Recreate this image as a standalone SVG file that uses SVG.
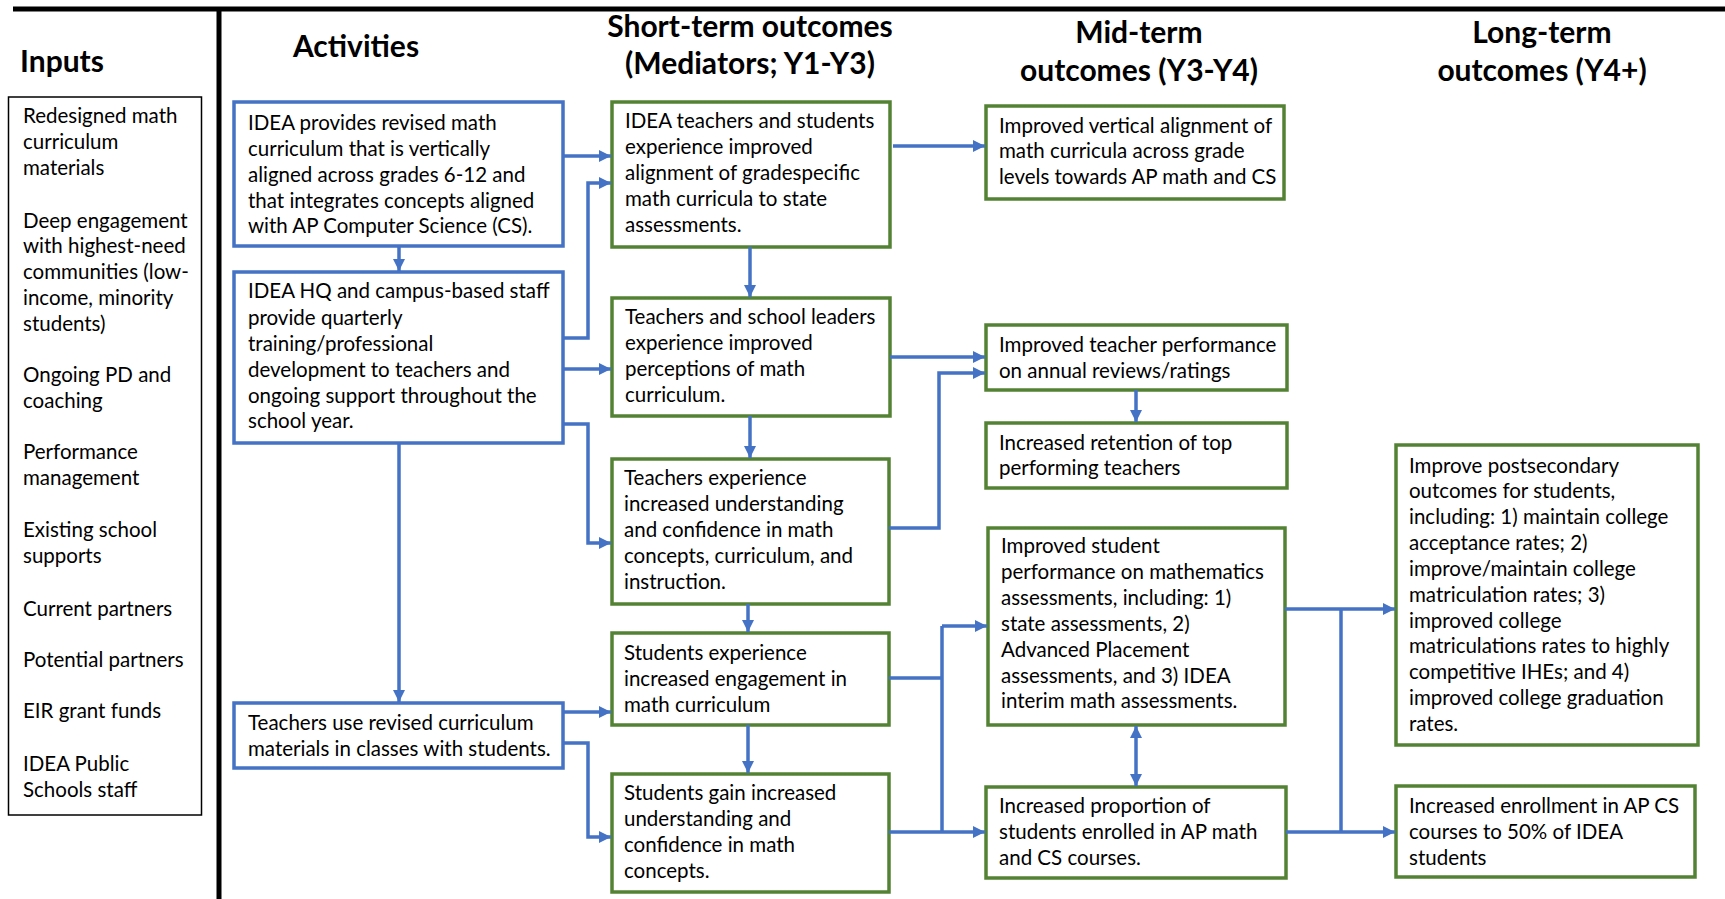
<svg xmlns="http://www.w3.org/2000/svg" width="1725" height="899" viewBox="0 0 1725 899">
<style>
text{font-family:Lato,"Liberation Sans",sans-serif;fill:#000}
.h{font-weight:bold;font-size:30px;text-anchor:middle}
.t{font-size:20.5px}
.bb{fill:#fff;stroke:#4472C4;stroke-width:3.5}
.gb{fill:#fff;stroke:#548235;stroke-width:3.5}
.ib{fill:#fff;stroke:#000;stroke-width:1.5}
.c path{fill:none;stroke:#4472C4;stroke-width:3.5}
.a{marker-end:url(#ah)}
.d{marker-start:url(#ah);marker-end:url(#ah)}
</style>
<defs>
<marker id="ah" markerUnits="userSpaceOnUse" markerWidth="13" markerHeight="13" refX="12" refY="6.5" orient="auto-start-reverse">
<path d="M0,0.5 L12,6.5 L0,12.5 z" fill="#4472C4"/>
</marker>
</defs>
<rect width="1725" height="899" fill="#fff"/>
<g id="frame">
<line x1="13" y1="9" x2="1725" y2="9" stroke="#000" stroke-width="5"/>
<line x1="219" y1="7" x2="219" y2="899" stroke="#000" stroke-width="5"/>
</g>
<g id="headers">
<text class="h" x="62" y="72">Inputs</text>
<text class="h" x="356" y="57">Activities</text>
<text class="h" x="750" y="37">Short-term outcomes</text>
<text class="h" x="750" y="74">(Mediators; Y1-Y3)</text>
<text class="h" x="1139" y="43">Mid-term</text>
<text class="h" x="1139" y="81">outcomes (Y3-Y4)</text>
<text class="h" x="1542" y="43">Long-term</text>
<text class="h" x="1542" y="81">outcomes (Y4+)</text>
</g>
<g id="inputs">
<rect class="ib" x="8.5" y="97" width="193" height="718"/>
<text class="t"><tspan x="23" y="123">Redesigned math</tspan><tspan x="23" y="149">curriculum</tspan><tspan x="23" y="175">materials</tspan><tspan x="23" y="228">Deep engagement</tspan><tspan x="23" y="253">with highest-need</tspan><tspan x="23" y="279">communities (low-</tspan><tspan x="23" y="305">income, minority</tspan><tspan x="23" y="331">students)</tspan><tspan x="23" y="382">Ongoing PD and</tspan><tspan x="23" y="408">coaching</tspan><tspan x="23" y="459">Performance</tspan><tspan x="23" y="485">management</tspan><tspan x="23" y="537">Existing school</tspan><tspan x="23" y="563">supports</tspan><tspan x="23" y="616">Current partners</tspan><tspan x="23" y="667">Potential partners</tspan><tspan x="23" y="718">EIR grant funds</tspan><tspan x="23" y="771">IDEA Public</tspan><tspan x="23" y="797">Schools staff</tspan></text>
</g>
<g id="a1">
<rect class="bb" x="234" y="102" width="329" height="144"/>
<text class="t"><tspan x="248" y="130">IDEA provides revised math</tspan><tspan x="248" y="156">curriculum that is vertically</tspan><tspan x="248" y="182">aligned across grades 6-12 and</tspan><tspan x="248" y="208">that integrates concepts aligned</tspan><tspan x="248" y="233">with AP Computer Science (CS).</tspan></text>
</g>
<g id="a2">
<rect class="bb" x="234" y="272" width="329" height="171"/>
<text class="t"><tspan x="248" y="298">IDEA HQ and campus-based staff</tspan><tspan x="248" y="325">provide quarterly</tspan><tspan x="248" y="351">training/professional</tspan><tspan x="248" y="377">development to teachers and</tspan><tspan x="248" y="403">ongoing support throughout the</tspan><tspan x="248" y="428">school year.</tspan></text>
</g>
<g id="a3">
<rect class="bb" x="234" y="703" width="329" height="65"/>
<text class="t"><tspan x="248" y="730">Teachers use revised curriculum</tspan><tspan x="248" y="756">materials in classes with students.</tspan></text>
</g>
<g id="s1">
<rect class="gb" x="612" y="102" width="278" height="145"/>
<text class="t"><tspan x="625" y="128">IDEA teachers and students</tspan><tspan x="625" y="154">experience improved</tspan><tspan x="625" y="180">alignment of gradespecific</tspan><tspan x="625" y="206">math curricula to state</tspan><tspan x="625" y="232">assessments.</tspan></text>
</g>
<g id="s2">
<rect class="gb" x="612" y="298" width="278" height="118"/>
<text class="t"><tspan x="625" y="324">Teachers and school leaders</tspan><tspan x="625" y="350">experience improved</tspan><tspan x="625" y="376">perceptions of math</tspan><tspan x="625" y="402">curriculum.</tspan></text>
</g>
<g id="s3">
<rect class="gb" x="612" y="459" width="277" height="145"/>
<text class="t"><tspan x="624" y="485">Teachers experience</tspan><tspan x="624" y="511">increased understanding</tspan><tspan x="624" y="537">and confidence in math</tspan><tspan x="624" y="563">concepts, curriculum, and</tspan><tspan x="624" y="589">instruction.</tspan></text>
</g>
<g id="s4">
<rect class="gb" x="612" y="633" width="277" height="92"/>
<text class="t"><tspan x="624" y="660">Students experience</tspan><tspan x="624" y="686">increased engagement in</tspan><tspan x="624" y="712">math curriculum</tspan></text>
</g>
<g id="s5">
<rect class="gb" x="612" y="774" width="277" height="118"/>
<text class="t"><tspan x="624" y="800">Students gain increased</tspan><tspan x="624" y="826">understanding and</tspan><tspan x="624" y="852">confidence in math</tspan><tspan x="624" y="878">concepts.</tspan></text>
</g>
<g id="m1">
<rect class="gb" x="986" y="106" width="298" height="93"/>
<text class="t"><tspan x="999" y="133">Improved vertical alignment of</tspan><tspan x="999" y="158">math curricula across grade</tspan><tspan x="999" y="184">levels towards AP math and CS</tspan></text>
</g>
<g id="m2">
<rect class="gb" x="986" y="325" width="301" height="65"/>
<text class="t"><tspan x="999" y="352">Improved teacher performance</tspan><tspan x="999" y="378">on annual reviews/ratings</tspan></text>
</g>
<g id="m3">
<rect class="gb" x="986" y="423" width="301" height="65"/>
<text class="t"><tspan x="999" y="450">Increased retention of top</tspan><tspan x="999" y="475">performing teachers</tspan></text>
</g>
<g id="m4">
<rect class="gb" x="988" y="528" width="297" height="197"/>
<text class="t"><tspan x="1001" y="553">Improved student</tspan><tspan x="1001" y="579">performance on mathematics</tspan><tspan x="1001" y="605">assessments, including: 1)</tspan><tspan x="1001" y="631">state assessments, 2)</tspan><tspan x="1001" y="657">Advanced Placement</tspan><tspan x="1001" y="683">assessments, and 3) IDEA</tspan><tspan x="1001" y="708">interim math assessments.</tspan></text>
</g>
<g id="m5">
<rect class="gb" x="986" y="787" width="300" height="91"/>
<text class="t"><tspan x="999" y="813">Increased proportion of</tspan><tspan x="999" y="839">students enrolled in AP math</tspan><tspan x="999" y="865">and CS courses.</tspan></text>
</g>
<g id="l1">
<rect class="gb" x="1396" y="445" width="302" height="300"/>
<text class="t"><tspan x="1409" y="473">Improve postsecondary</tspan><tspan x="1409" y="498">outcomes for students,</tspan><tspan x="1409" y="524">including: 1) maintain college</tspan><tspan x="1409" y="550">acceptance rates; 2)</tspan><tspan x="1409" y="576">improve/maintain college</tspan><tspan x="1409" y="602">matriculation rates; 3)</tspan><tspan x="1409" y="628">improved college</tspan><tspan x="1409" y="653">matriculations rates to highly</tspan><tspan x="1409" y="679">competitive IHEs; and 4)</tspan><tspan x="1409" y="705">improved college graduation</tspan><tspan x="1409" y="731">rates.</tspan></text>
</g>
<g id="l2">
<rect class="gb" x="1396" y="786" width="299" height="91"/>
<text class="t"><tspan x="1409" y="813">Increased enrollment in AP CS</tspan><tspan x="1409" y="839">courses to 50% of IDEA</tspan><tspan x="1409" y="865">students</tspan></text>
</g>
<g id="connectors" class="c">
<path class="a" d="M399,246 V271"/>
<path class="a" d="M399,443 V702"/>
<path class="a" d="M563,156 H611"/>
<path class="a" d="M563,338 H588 V183 H611"/>
<path class="a" d="M563,369 H611"/>
<path class="a" d="M563,424 H588 V543 H611"/>
<path class="a" d="M563,712 H611"/>
<path class="a" d="M563,743 H588 V837 H611"/>
<path class="a" d="M750,247 V297"/>
<path class="a" d="M750,416 V458"/>
<path class="a" d="M748,604 V632"/>
<path class="a" d="M748,725 V773"/>
<path class="a" d="M893,146 H985"/>
<path class="a" d="M890,357 H985"/>
<path class="a" d="M889,528 H939 V373 H985"/>
<path class="a" d="M1136,390 V422"/>
<path d="M889,678 H942 M942,626 V832"/>
<path class="a" d="M942,626 H987"/>
<path class="a" d="M889,832 H985"/>
<path class="d" d="M1136,726 V786"/>
<path d="M1341,609 V832"/>
<path class="a" d="M1285,609 H1395"/>
<path class="a" d="M1286,832 H1395"/>
</g>
</svg>
